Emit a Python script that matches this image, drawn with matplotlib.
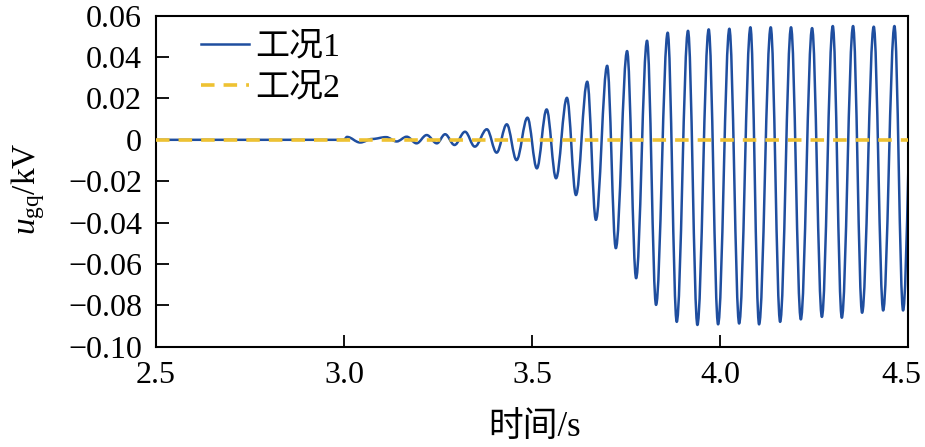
import matplotlib
matplotlib.use("Agg")
import matplotlib.pyplot as plt
import matplotlib.transforms as mtransforms
from matplotlib.path import Path
from matplotlib.patches import PathPatch
from matplotlib.lines import Line2D

plt.rcParams['font.family'] = ['Liberation Serif', 'Noto Sans CJK SC', 'DejaVu Sans']
plt.rcParams['mathtext.fontset'] = 'custom'
plt.rcParams['mathtext.rm'] = 'Liberation Serif'
plt.rcParams['mathtext.it'] = 'Liberation Serif:italic'

# case 1: extrema of the oscillation (time in s, u_gq in kV)
case1_t = [2.5, 3.0, 3.008, 3.043, 3.075, 3.112, 3.140, 3.167, 3.193, 3.220,
           3.247, 3.269, 3.294, 3.322, 3.348, 3.380, 3.406, 3.433, 3.459, 3.488,
           3.513, 3.539, 3.564, 3.593, 3.617, 3.647, 3.670, 3.700, 3.723, 3.753,
           3.777, 3.806, 3.830, 3.861, 3.885, 3.915, 3.940, 3.970, 3.995, 4.025,
           4.051, 4.081, 4.104, 4.135, 4.160, 4.189, 4.215, 4.245, 4.271, 4.300,
           4.324, 4.354, 4.378, 4.409, 4.434, 4.464, 4.487, 4.515]
case1_u = [0.0, 0.0, 0.0014, -0.0013, 0.0004, 0.0013, -0.0008, 0.0015, -0.0017, 0.0023,
           -0.0017, 0.0027, -0.0025, 0.0039, -0.0033, 0.0051, -0.0062, 0.0075, -0.0098, 0.0107,
           -0.0138, 0.0147, -0.0186, 0.0203, -0.0267, 0.0281, -0.0387, 0.0358, -0.0524, 0.0429,
           -0.0669, 0.0479, -0.0798, 0.0518, -0.0880, 0.0527, -0.0895, 0.0534, -0.0892, 0.0537,
           -0.0888, 0.0544, -0.0892, 0.0544, -0.0880, 0.0544, -0.0868, 0.0540, -0.0856, 0.0550,
           -0.0860, 0.0550, -0.0836, 0.0547, -0.0825, 0.0550, -0.0825, 0.0550]

# case 2: stays at zero
case2_t = [2.5, 4.5]
case2_u = [0.0, 0.0]

xticks = [2.5, 3.0, 3.5, 4.0, 4.5]
xticklabels = ['2.5', '3.0', '3.5', '4.0', '4.5']
yticks = [-0.10, -0.08, -0.06, -0.04, -0.02, 0.0, 0.02, 0.04, 0.06]
yticklabels = ['\u22120.10', '\u22120.08', '\u22120.06', '\u22120.04', '\u22120.02',
               '0', '0.02', '0.04', '0.06']

blue = '#1f4e9f'
yellow = '#eec232'

fig = plt.figure(figsize=(9.25, 4.47), dpi=100)
ax = fig.add_axes([0.1686, 0.2244, 0.8130, 0.7405])

# smooth curve through the extrema (cubic Bezier, flat tangents at each extremum)
c = 0.3642
verts = [(case1_t[0], case1_u[0])]
codes = [Path.MOVETO]
for i in range(1, len(case1_t)):
    t0, u0 = case1_t[i - 1], case1_u[i - 1]
    t1, u1 = case1_t[i], case1_u[i]
    d = t1 - t0
    verts += [(t0 + c * d, u0), (t1 - c * d, u1), (t1, u1)]
    codes += [Path.CURVE4] * 3
patch = PathPatch(Path(verts, codes), fill=False, edgecolor=blue, lw=1.8,
                  capstyle='butt', joinstyle='round', zorder=2)
ax.add_patch(patch)

ax.plot(case2_t, case2_u, color=yellow, lw=2.6, dashes=(3.75, 2.5), zorder=3)

ax.set_xlim(2.5, 4.5)
ax.set_ylim(-0.10, 0.06)
ax.set_xticks(xticks)
ax.set_xticklabels(xticklabels)
ax.set_yticks(yticks)
ax.set_yticklabels(yticklabels)
ax.tick_params(direction='in', length=9, width=1.3, labelsize=23, pad=10)
for s in ax.spines.values():
    s.set_linewidth(1.5)

# last x label sits right at the figure edge, nudge it left a little
last = ax.get_xticklabels()[-1]
last.set_transform(last.get_transform() +
                   mtransforms.ScaledTranslation(-0.07, 0, fig.dpi_scale_trans))

ax.set_xlabel('时间/s', fontsize=25)
ax.xaxis.set_label_coords(0.504, -0.195)
ax.set_ylabel(r'$u_{\mathrm{gq}}$/kV', fontsize=24)
ax.yaxis.set_label_coords(-0.145, 0.476)

handles = [Line2D([], [], color=blue, lw=1.8),
           Line2D([], [], color=yellow, lw=2.6, dashes=(3.75, 2.5))]
ax.legend(handles, ['工况1', '工况2'], loc='upper left', frameon=False,
          fontsize=24.5, handlelength=1.4, handletextpad=0.2, labelspacing=0.3,
          borderaxespad=0, borderpad=0, bbox_to_anchor=(0.06, 0.951))

fig.savefig('out.png', dpi=100)
